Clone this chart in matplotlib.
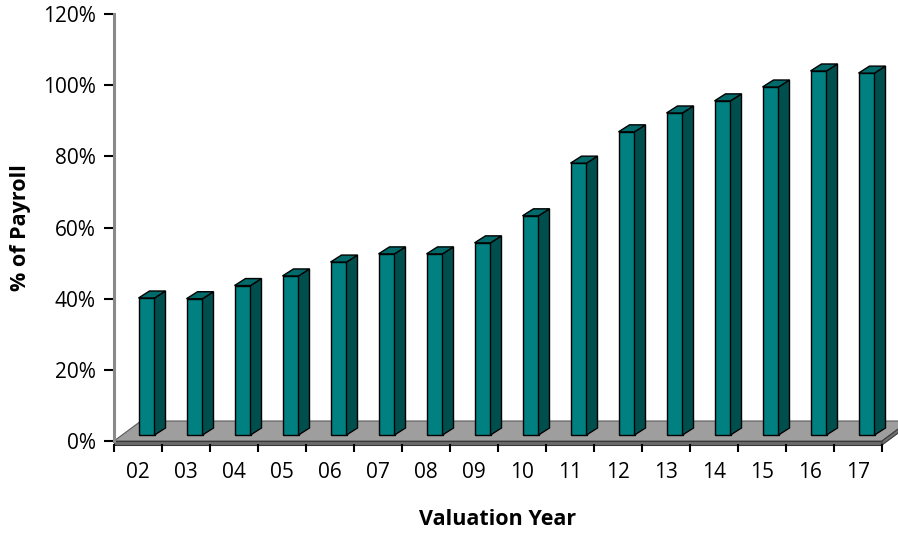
import matplotlib
matplotlib.use("Agg")
import matplotlib.pyplot as plt
from matplotlib.patches import Polygon
import numpy as np

# Valuation years and unfunded liability as % of payroll
years = ["02", "03", "04", "05", "06", "07", "08", "09",
         "10", "11", "12", "13", "14", "15", "16", "17"]
payroll_pct = [38.5, 38.3, 42.0, 44.7, 48.6, 50.9, 50.9, 54.0,
               61.6, 76.4, 85.2, 90.5, 93.9, 97.8, 102.3, 101.7]
y_ticks = [0, 20, 40, 60, 80, 100, 120]

plt.rcParams["font.family"] = ["Open Sans", "DejaVu Sans"]

W, H = 898, 535
fig = plt.figure(figsize=(W / 100, H / 100), dpi=100)
ax = fig.add_axes([114 / W, (H - 441) / H, 768 / W, 427 / H])

n = len(years)
ax.set_xlim(0, n)
ax.set_ylim(0, 120)
px = n / 768.0       # one pixel in category units
py = 120 / 427.0     # one pixel in percent units

# --- floor slab -------------------------------------------------------
fdx, fdy = 27 * px, 20 * py
slab = 4 * py
floor_top = Polygon([(0, 0), (n, 0), (n + fdx, fdy), (fdx, fdy)],
                    closed=True, fc="#9e9e9e", ec="#5a5a5a", lw=0.8,
                    clip_on=False, zorder=1)
floor_front = Polygon([(0, -slab), (n, -slab), (n, 0), (0, 0)],
                      closed=True, fc="#6a6a6a", ec="#3a3a3a", lw=0.8,
                      clip_on=False, zorder=1)
floor_side = Polygon([(n, -slab), (n + fdx, fdy - slab), (n + fdx, fdy), (n, 0)],
                     closed=True, fc="#707070", ec="#3a3a3a", lw=0.8,
                     clip_on=False, zorder=1)
for p in (floor_top, floor_front, floor_side):
    ax.add_patch(p)

# --- 3-D columns ------------------------------------------------------
front_w = 16 * px
bdx, bdy = 11 * px, 7 * py
base = 6 * py
x_left = np.arange(n) + 24.5 * px
vals = np.array(payroll_pct)

ax.bar(x_left, vals, width=front_w, bottom=base, align="edge",
       color="#008080", edgecolor="black", linewidth=1.0, zorder=3,
       clip_on=False)
for xl, v in zip(x_left, vals):
    xr = xl + front_w
    top = base + v
    side = Polygon([(xr, base), (xr + bdx, base + bdy), (xr + bdx, top + bdy), (xr, top)],
                   closed=True, fc="#004f4f", ec="black", lw=1.0,
                   clip_on=False, zorder=3)
    cap = Polygon([(xl, top), (xr, top), (xr + bdx, top + bdy), (xl + bdx, top + bdy)],
                  closed=True, fc="#006a6a", ec="black", lw=1.0,
                  clip_on=False, zorder=3)
    ax.add_patch(side)
    ax.add_patch(cap)

# --- axes styling -----------------------------------------------------
for s in ("top", "right"):
    ax.spines[s].set_visible(False)
ax.spines["left"].set_color("#8a8a8a")
ax.spines["left"].set_linewidth(2.2)
ax.spines["bottom"].set_visible(False)
ax.spines["bottom"].set_position(("outward", 2))

ax.set_yticks(y_ticks)
ax.set_yticklabels([f"{t}%" for t in y_ticks], fontsize=15)
ax.tick_params(axis="y", direction="out", length=7, width=1.5,
               color="black", pad=6)

ax.set_xticks(np.arange(n) + 0.5)
ax.set_xticklabels(years, fontsize=15)
ax.set_xticks(np.arange(n + 1), minor=True)
ax.tick_params(axis="x", which="major", length=0, pad=13)
ax.tick_params(axis="x", which="minor", length=6, width=1.5, color="black")

ax.set_ylabel("% of Payroll", fontsize=15.5, fontweight="bold")
ax.yaxis.set_label_coords(-0.122, 0.5)
ax.set_xlabel("Valuation Year", fontsize=15.5, fontweight="bold")
ax.xaxis.set_label_coords(0.5, -0.183)
ax.xaxis.label.set_va("center")
ax.yaxis.label.set_va("center")

fig.savefig("out.png", dpi=100)
